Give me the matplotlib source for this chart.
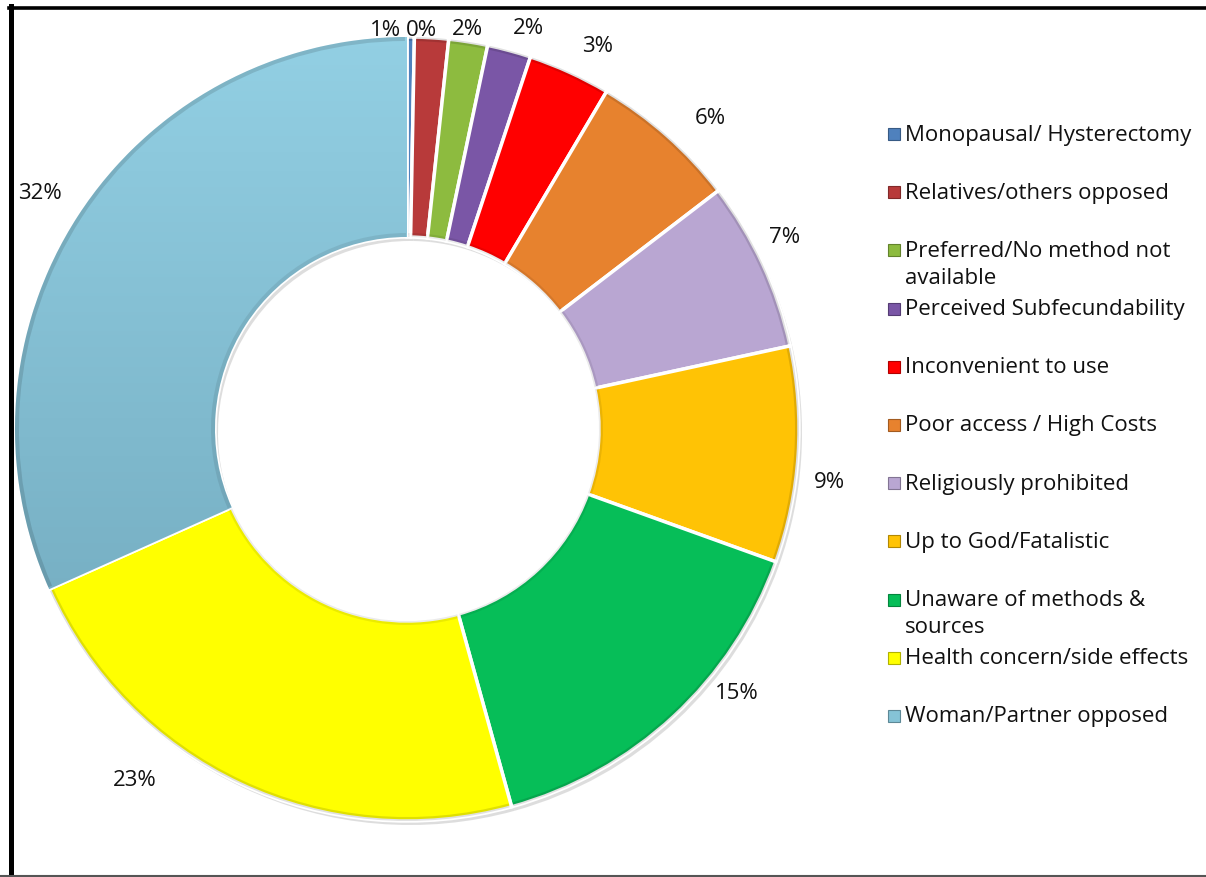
import numpy as np
import matplotlib.pyplot as plt
from matplotlib.patches import Wedge, Rectangle
from matplotlib.lines import Line2D
import matplotlib.colors as mcolors

plt.rcParams['font.family'] = ['Open Sans', 'DejaVu Sans']

# data (percent)
categories = ["Monopausal/ Hysterectomy", "Relatives/others opposed",
              "Preferred/No method not\navailable", "Perceived Subfecundability",
              "Inconvenient to use", "Poor access / High Costs",
              "Religiously prohibited", "Up to God/Fatalistic",
              "Unaware of methods &\nsources", "Health concern/side effects",
              "Woman/Partner opposed"]
values = [0.3, 1.4, 1.6, 1.8, 3.4, 6.1, 7.0, 8.9, 15.2, 22.6, 31.7]

colors = ["#4F81BD", "#B83A3A", "#8DBB3F", "#7A56A6", "#FF0000", "#E7822E",
          "#B9A6D2", "#FFC305", "#06BE58", "#FFFF00", "#85C3D6"]
explode = [0, 0, 0, 0, 0, 0, 0, 0, 0, 0.012, 0.018]
# label placement tweaks (degrees relative to wedge middle, radius in px)
label_shift = [-1.6, 6.7, 0.4, -1.7, -2.0, -2.6, 2.1, -3.3, 8.6, -12.7, 0.1]
label_r = [400, 400, 405, 419, 428, 435, 424, 426, 422, 444, 437]

W, H = 1206, 878
cx, cy, R, ring = 407, 448, 392, 200
fs = 16

fig = plt.figure(figsize=(W / 100, H / 100), dpi=100)
ax = fig.add_axes([0, 0, 1, 1])

# soft shadow
ax.pie(values, radius=R, center=(cx + 3, cy - 4), startangle=90, counterclock=False,
       explode=explode, colors=["#bdbdbd"] * len(values),
       wedgeprops=dict(width=ring, linewidth=0, alpha=0.5))

wedges, _ = ax.pie(values, radius=R, center=(cx, cy), startangle=90, counterclock=False,
                   explode=explode, colors=colors,
                   wedgeprops=dict(width=ring, edgecolor="white", linewidth=2.5))

# gradient on the big light blue slice
big = wedges[-1]
grad = np.linspace(0, 1, 256).reshape(-1, 1)
top_c = np.array(mcolors.to_rgb("#93D0E4"))
bot_c = np.array(mcolors.to_rgb("#6BA2B6"))
img = top_c * grad + bot_c * (1 - grad)
im = ax.imshow(img.reshape(256, 1, 3), extent=(0, 420, 30, 850), origin="lower",
               aspect="auto", zorder=big.get_zorder())
im.set_clip_path(big)
big.set_facecolor("none")

# bevel darkening at rims
for w in wedges:
    c = w.center
    for r0, wd, a in [(w.r, 4, 0.12), (w.r - ring + 4, 4, 0.08)]:
        ax.add_patch(Wedge(c, r0, w.theta1 + 0.3, w.theta2 - 0.3, width=wd,
                           facecolor="black", alpha=a, linewidth=0, zorder=3))

# percentage labels
for w, v, s, r in zip(wedges, values, label_shift, label_r):
    mid = np.deg2rad((w.theta1 + w.theta2) / 2 + s)
    ax.text(cx + r * np.cos(mid), cy + r * np.sin(mid), f"{round(v)}%",
            ha="center", va="center", fontsize=fs, color="#111111")

ax.set_xlim(0, W)
ax.set_ylim(0, H)
ax.set_aspect("equal")
ax.axis("off")

# manual legend
y0, step = H - 135, 58.2
for i, (lab, col) in enumerate(zip(categories, colors)):
    y = y0 - i * step
    ax.add_patch(Rectangle((888, y - 6), 12, 12, facecolor=col,
                           edgecolor=mcolors.to_hex(np.array(mcolors.to_rgb(col)) * 0.7),
                           linewidth=0.8))
    for j, ln in enumerate(lab.split("\n")):
        ax.text(905, y - j * 27, ln, ha="left", va="center", fontsize=fs, color="#111111")

# frame
fig.add_artist(Line2D([10.5 / W, 10.5 / W], [0, 1 - 7 / H], color="black", linewidth=3.6))
fig.add_artist(Line2D([9 / W, 1], [1 - 8.5 / H, 1 - 8.5 / H], color="black", linewidth=2.6))
fig.add_artist(Line2D([0, 1], [1 / H, 1 / H], color="#555555", linewidth=1.5))

fig.savefig("out.png", dpi=100)
